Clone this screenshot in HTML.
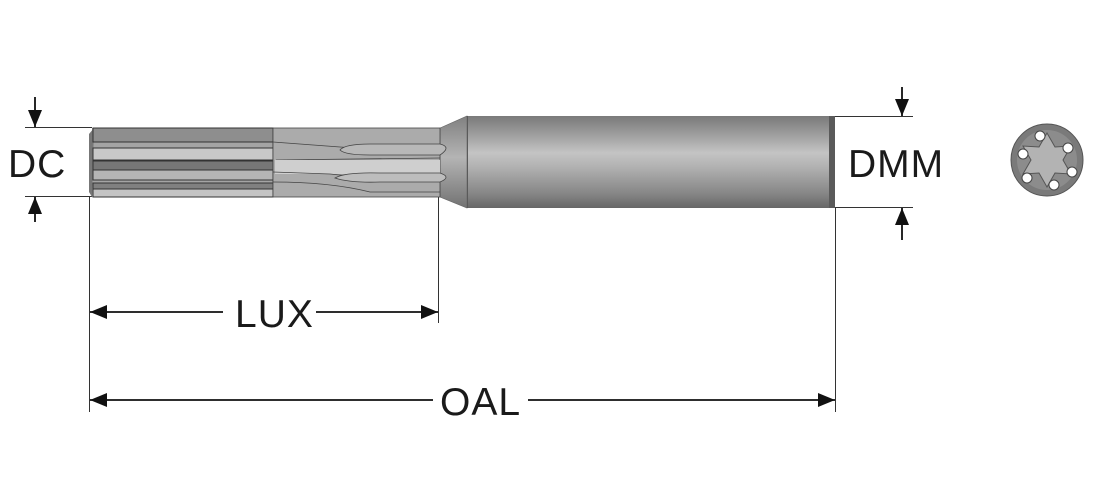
<!DOCTYPE html>
<html><head><meta charset="utf-8"><style>
html,body{margin:0;padding:0;background:#fff;width:1096px;height:500px;overflow:hidden}
text{font-family:"Liberation Sans",sans-serif;fill:#1a1a1a;letter-spacing:1px}
</style></head><body>
<svg width="1096" height="500" viewBox="0 0 1096 500" xmlns="http://www.w3.org/2000/svg">
<defs>
<linearGradient id="sh" x1="0" y1="0" x2="0" y2="1">
<stop offset="0" stop-color="#7a7a7a"/><stop offset="0.15" stop-color="#949494"/>
<stop offset="0.4" stop-color="#c4c4c4"/><stop offset="0.55" stop-color="#b2b2b2"/>
<stop offset="0.85" stop-color="#858585"/><stop offset="1" stop-color="#666"/>
</linearGradient>
<linearGradient id="cn" x1="0" y1="0" x2="0" y2="1">
<stop offset="0" stop-color="#808080"/><stop offset="0.45" stop-color="#b4b4b4"/><stop offset="1" stop-color="#727272"/>
</linearGradient>
<marker id="a" markerWidth="17" markerHeight="14" refX="17" refY="7" orient="auto" markerUnits="userSpaceOnUse">
<path d="M0,0 L17,7 L0,14 z" fill="#111"/></marker>
</defs>
<g stroke="#333" stroke-width="1" fill="none">
<line x1="25" y1="127.5" x2="92" y2="127.5"/><line x1="25" y1="196.5" x2="92" y2="196.5"/>
<line x1="835" y1="116.5" x2="913" y2="116.5"/><line x1="835" y1="207.5" x2="913" y2="207.5"/>
<line x1="89.5" y1="197" x2="89.5" y2="412"/>
<line x1="438.5" y1="197" x2="438.5" y2="323"/>
<line x1="835.5" y1="208" x2="835.5" y2="412"/>
</g>
<g stroke="#111" stroke-width="1.8">
<line x1="35" y1="97" x2="35" y2="127" marker-end="url(#a)"/>
<line x1="35" y1="222" x2="35" y2="197" marker-end="url(#a)"/>
<line x1="902" y1="87" x2="902" y2="116" marker-end="url(#a)"/>
<line x1="902" y1="240" x2="902" y2="208" marker-end="url(#a)"/>
<line x1="223" y1="312" x2="90" y2="312" marker-end="url(#a)"/>
<line x1="316" y1="312" x2="438" y2="312" marker-end="url(#a)"/>
<line x1="433" y1="400" x2="90" y2="400" marker-end="url(#a)"/>
<line x1="528" y1="400" x2="835" y2="400" marker-end="url(#a)"/>
</g>
<text x="8" y="177" font-size="39">DC</text>
<text x="848" y="177" font-size="39">DMM</text>
<text x="235" y="327" font-size="39">LUX</text>
<text x="440" y="415" font-size="39">OAL</text>
<rect x="467" y="116" width="368" height="92" fill="url(#sh)"/>
<rect x="829" y="116" width="6" height="92" fill="#5a5a5a"/>
<line x1="467.5" y1="116" x2="467.5" y2="208" stroke="#555"/>
<polygon points="440,128 467,116 467,208 440,197" fill="url(#cn)" stroke="#666" stroke-width="0.6"/>
<rect x="92" y="128" width="348" height="69" fill="#a4a4a4"/>
<polygon points="89,134 94,128 92,197 89,192" fill="#777"/>
<g stroke="#333" stroke-width="1">
<rect x="93" y="128" width="180" height="14" fill="#8e8e8e"/>
<rect x="93" y="148" width="180" height="12" fill="#c8c8c8"/>
<rect x="93" y="161" width="180" height="9" fill="#777"/>
<rect x="93" y="170" width="180" height="10" fill="#b5b5b5"/>
<rect x="93" y="183" width="180" height="6" fill="#808080"/>
<rect x="93" y="189" width="180" height="8" fill="#c4c4c4"/>
<line x1="273" y1="128" x2="273" y2="197"/>
</g>
<g stroke="#444" stroke-width="0.8">
<rect x="273" y="128" width="167" height="69" fill="#ababab"/>
<path d="M273,142 L340,147 Q380,150 440,148" fill="none"/>
<path d="M340,150 Q345,144 370,144 L440,144 Q452,147 440,155 L370,155 Q345,155 340,150z" fill="#b8b8b8"/>
<path d="M276,160 L440,158" fill="none"/>
<rect x="275" y="160" width="165" height="14" fill="#cfcfcf" stroke="none"/>
<path d="M273,172 L330,174 Q360,178 440,177" fill="none"/>
<path d="M335,178 Q345,172 380,173 L440,173 Q452,177 440,182 L380,182 Q350,183 335,178z" fill="#bdbdbd"/>
<path d="M273,182 Q330,182 370,192 L440,192" fill="none"/>
</g>
<circle cx="1047" cy="160" r="36" fill="#7a7a7a" stroke="#555"/>
<circle cx="1047" cy="160" r="30" fill="#8c8c8c"/>
<polygon points="1047,133 1055,147 1071,146 1063,160 1071,174 1055,173 1047,187 1039,173 1023,174 1031,160 1023,146 1039,147" fill="#b3b3b3" stroke="#555" stroke-width="1"/>
<g fill="#fff" stroke="#444" stroke-width="1">
<circle cx="1040" cy="136" r="5"/><circle cx="1068" cy="148" r="5"/><circle cx="1072" cy="172" r="5"/>
<circle cx="1054" cy="185" r="5"/><circle cx="1027" cy="178" r="5"/><circle cx="1023" cy="154" r="5"/>
</g>
</svg>
</body></html>
